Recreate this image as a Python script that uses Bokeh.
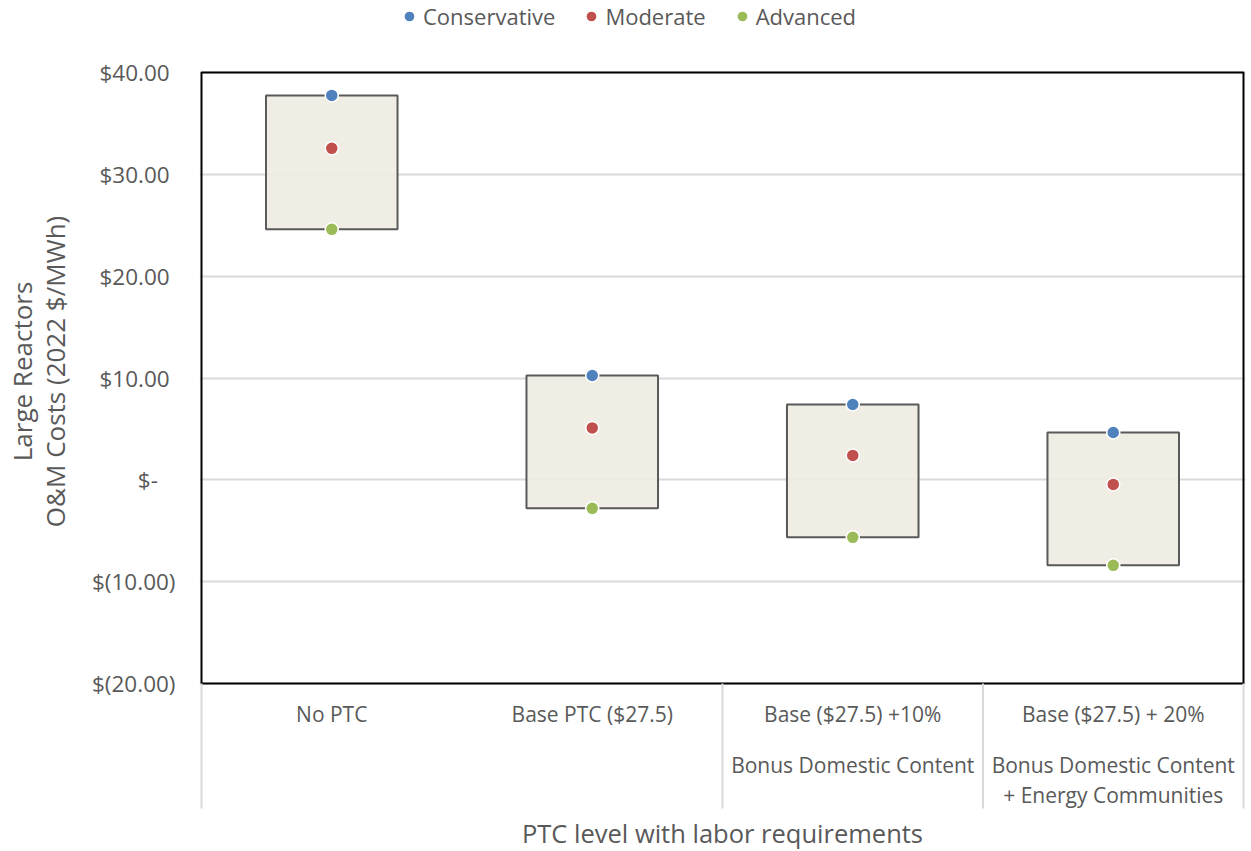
from bokeh.plotting import figure
from bokeh.models import Range1d, FixedTicker, Legend, LegendItem
from bokeh.core.properties import value
from bokeh.embed import file_html
from bokeh.resources import INLINE

# ---- data ----
categories = ["No PTC", "Base PTC ($27.5)", "Base ($27.5) +10%", "Base ($27.5) + 20%"]
subline1 = ["", "", "Bonus Domestic Content", "Bonus Domestic Content"]
subline2 = ["", "", "", "+ Energy Communities"]
conservative = [37.75, 10.25, 7.40, 4.65]
moderate = [32.55, 5.10, 2.40, -0.45]
advanced = [24.60, -2.80, -5.65, -8.40]
y_ticks = [-20, -10, 0, 10, 20, 30, 40]
y_tick_labels = ["$(20.00)", "$(10.00)", "$-\u00a0\u00a0\u00a0", "$10.00\u00a0", "$20.00\u00a0",
                 "$30.00\u00a0", "$40.00\u00a0"]
separators = [0, 2, 3, 4]
x_title = "PTC level with labor requirements"
y_title_lines = ["Large Reactors", "O&M Costs (2022 $/MWh)"]

TXT = "#595959"
FONT = "Open Sans"
C_BLUE, C_RED, C_GREEN = "#4F81BD", "#C0504D", "#9BBB59"

# ---- layout (pixels) ----
H = 850
PLOT_TOP, PLOT_BOTTOM = 72, 683
PX = (PLOT_BOTTOM - PLOT_TOP) / (y_ticks[-1] - y_ticks[0])   # pixels per unit
ymin, ymax = y_ticks[0], y_ticks[-1]


def py(pix):
    """page-pixel row -> data value (for texts placed below the plot box)"""
    return ymin - (pix - PLOT_BOTTOM) / PX


n = len(categories)
xs = [i + 0.5 for i in range(n)]
CAT_W = 260.75
pad = 2 / CAT_W

p = figure(width=1247, height=H, output_backend="svg", toolbar_location=None,
           x_range=Range1d(-pad, n + pad),
           y_range=Range1d(py(H), ymax + PLOT_TOP / PX),
           x_axis_location=None,
           min_border_left=198, min_border_right=2, min_border_top=0, min_border_bottom=0,
           background_fill_color="white", border_fill_color="white")
p.outline_line_color = None

# grid
p.xgrid.visible = False
p.ygrid.ticker = FixedTicker(ticks=y_ticks)
p.ygrid.grid_line_color = "#D9D9D9"
p.ygrid.grid_line_width = 2

# y axis
ya = p.yaxis[0]
ya.ticker = FixedTicker(ticks=y_ticks)
ya.major_label_overrides = {t: l for t, l in zip(y_ticks, y_tick_labels)}
ya.axis_line_color = None
ya.major_tick_line_color = None
ya.minor_tick_line_color = None
ya.major_tick_out = 0
ya.major_tick_in = 0
ya.major_label_standoff = 24
ya.major_label_text_font = FONT
ya.major_label_text_font_size = "22.5px"
ya.major_label_text_color = TXT
padding = "\u00a0" * 16
ya.axis_label = "\n".join(padding + s for s in y_title_lines)
ya.axis_label_text_font = FONT
ya.axis_label_text_font_size = "26px"
ya.axis_label_text_line_height = 0.93
ya.axis_label_text_font_style = "normal"
ya.axis_label_text_color = TXT
ya.axis_label_standoff = 16

# plot-area border
p.quad(left=[0], right=[n], bottom=[ymin], top=[ymax], fill_color=None,
       line_color="black", line_width=2)

# category separators below the plot area
p.segment(x0=separators, y0=[ymin] * len(separators), x1=separators,
          y1=[py(808)] * len(separators), line_color="#D9D9D9", line_width=2)

# range boxes
p.vbar(x=xs, width=0.505, top=conservative, bottom=advanced,
       fill_color="#EEECE1", fill_alpha=0.9, line_color="#595959", line_width=2)

r1 = p.scatter(xs, conservative, size=13, fill_color=C_BLUE, line_color="white", line_width=1.5)
r2 = p.scatter(xs, moderate, size=13, fill_color=C_RED, line_color="white", line_width=1.5)
r3 = p.scatter(xs, advanced, size=13, fill_color=C_GREEN, line_color="white", line_width=1.5)

legend = Legend(items=[LegendItem(label="Conservative", renderers=[r1]),
                       LegendItem(label="Moderate", renderers=[r2]),
                       LegendItem(label="Advanced", renderers=[r3])],
                orientation="horizontal", location=(196, H - 31),
                glyph_width=28, glyph_height=28, label_standoff=0, spacing=22,
                padding=0, margin=0, border_line_color=None, background_fill_alpha=0,
                label_text_font=FONT, label_text_font_size="22px", label_text_color=TXT)
p.add_layout(legend)

# category labels below the plot
lab_x, lab_y, lab_t = [], [], []
for i, x in enumerate(xs):
    for txt, row in ((categories[i], 713), (subline1[i], 764), (subline2[i], 794)):
        if txt:
            lab_x.append(x)
            lab_y.append(py(row))
            lab_t.append(txt)
p.text(x=lab_x, y=lab_y, text=lab_t, text_align="center", text_baseline="middle",
       text_font=value(FONT), text_font_size="21px", text_color=TXT)

p.text(x=[n / 2], y=[py(832)], text=[x_title], text_align="center", text_baseline="middle",
       text_font=value(FONT), text_font_size="25.5px", text_color=TXT)

open("out.html", "w").write(file_html(p, INLINE))
